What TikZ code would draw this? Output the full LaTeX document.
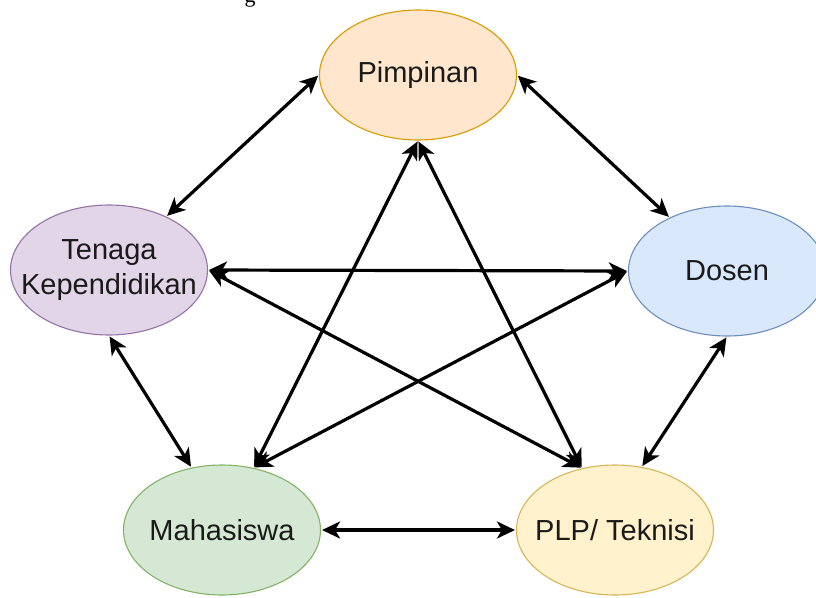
\documentclass[tikz,border=0pt]{standalone}
\usepackage{fontspec}
\setmainfont{Liberation Sans}
\newfontfamily\capfont{Liberation Serif}
\usetikzlibrary{arrows.meta,shapes.geometric}
\definecolor{pimpF}{HTML}{FFE6CC}\definecolor{pimpD}{HTML}{D79B00}
\definecolor{tenF}{HTML}{E1D5E7}\definecolor{tenD}{HTML}{9673A6}
\definecolor{dosF}{HTML}{DAE8FC}\definecolor{dosD}{HTML}{6C8EBF}
\definecolor{mhsF}{HTML}{D5E8D4}\definecolor{mhsD}{HTML}{82B366}
\definecolor{plpF}{HTML}{FFF2CC}\definecolor{plpD}{HTML}{D6B656}
\definecolor{txt}{HTML}{1A1A1A}
\newcommand{\zb}[1]{\makebox[0pt][c]{#1}}
\begin{document}
\begin{tikzpicture}[x=1pt,y=-1pt,
  ell/.style={ellipse, minimum width=197pt, minimum height=130pt, line width=1.1pt,
    inner sep=0pt, align=center, text=txt,
    font=\fontsize{29}{35}\selectfont},
  link/.style={line width=3.2pt, {Stealth[length=18pt,width=17pt,inset=5pt]}-{Stealth[length=18pt,width=17pt,inset=5pt]}, shorten <=1pt, shorten >=1pt}]
\useasboundingbox (0,0) rectangle (816,597);
\fill[white] (0,0) rectangle (816,597);
\node[anchor=base, font=\capfont\fontsize{22}{26}\selectfont] (cap) at (250,2) {g};
\node[ell, fill=pimpF, draw=pimpD] (p) at (418,75) {\zb{Pimpinan}};
\node[ell, fill=tenF, draw=tenD] (t) at (109,270) {\zb{Tenaga}\\\zb{Kependidikan}};
\node[ell, fill=dosF, draw=dosD] (d) at (727,271) {\zb{Dosen}};
\node[ell, fill=mhsF, draw=mhsD] (m) at (222,530) {\zb{Mahasiswa}};
\node[ell, fill=plpF, draw=plpD] (l) at (615,530) {\zb{PLP/ Teknisi}};
\draw[link] (t.43) -- (p.west);
\draw[link] (p.east) -- (d.137);
\draw[link] (p.south) -- (m.63);
\draw[link] (p.south) -- (l.118);
\draw[link] (t.east) -- (d.west);
\draw[link] (t.east) -- (l.118);
\draw[link] (d.west) -- (m.63);
\draw[link] (t.south) -- (m.116);
\draw[link] (d.south) -- (l.67);
\draw[link] (m.east) -- (l.west);
\end{tikzpicture}
\end{document}
